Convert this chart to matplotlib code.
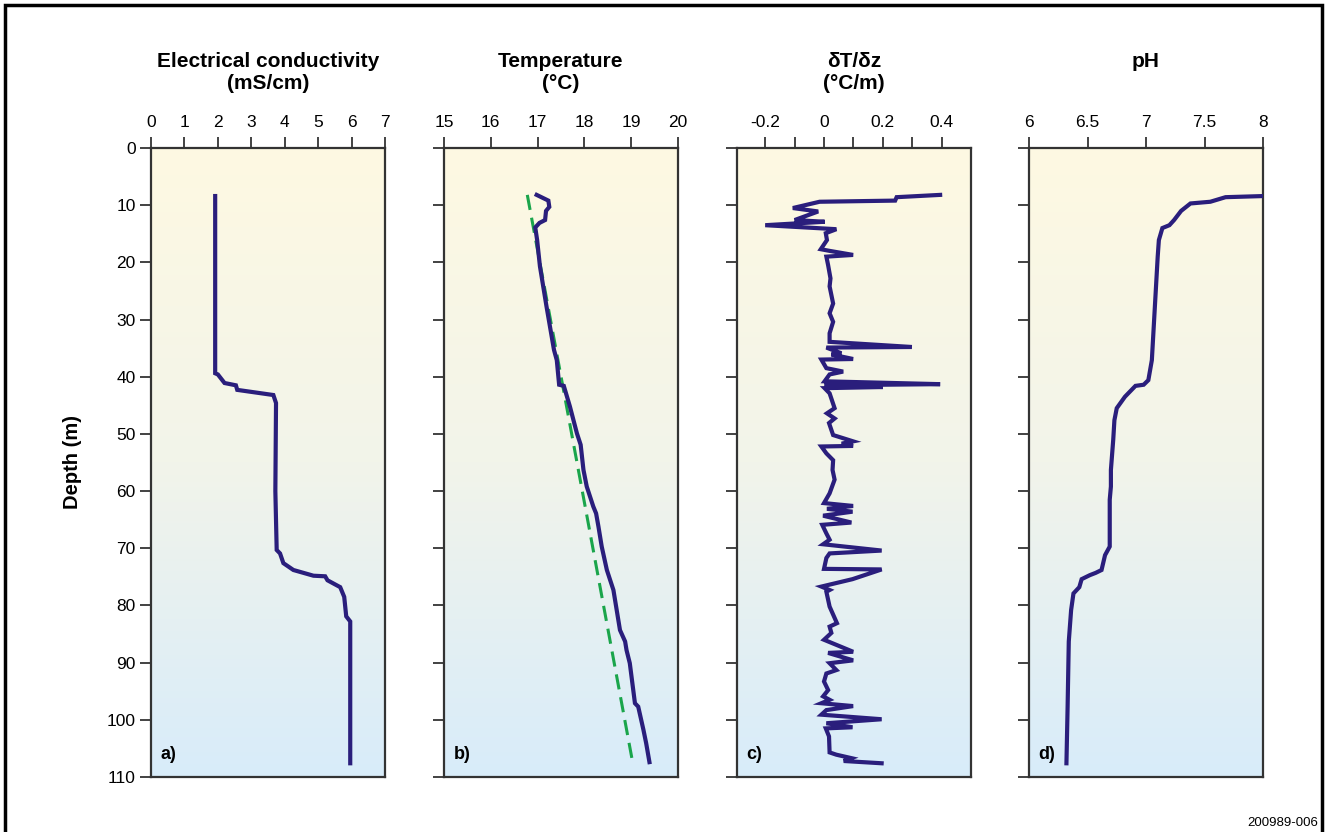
import matplotlib.pyplot as plt
import numpy as np
from matplotlib.colors import LinearSegmentedColormap
from matplotlib.patches import Rectangle

plt.rcParams['font.family'] = ['Liberation Sans', 'DejaVu Sans']

# ---- data ----
ec_depth = [8.4, 39.4, 39.6, 41.1, 41.5, 42.3, 43.2, 44.6, 60.0, 70.3, 70.9, 72.6,
            73.8, 74.8, 74.9, 75.6, 76.8, 78.5, 81.9, 82.8, 107.6]
ec_value = [1.92, 1.92, 2.0, 2.2, 2.54, 2.58, 3.66, 3.74, 3.72, 3.76, 3.86, 3.96,
            4.26, 4.86, 5.21, 5.28, 5.66, 5.78, 5.84, 5.96, 5.96]

temp_depth = [8.2, 9.2, 10.3, 11.0, 12.6, 13.1, 13.9, 16.1, 20.7, 27.7, 35.3, 37.1,
              41.4, 41.6, 45.2, 49.9, 51.9, 56.3, 59.2, 62.7, 63.9, 66.2, 69.7,
              73.8, 77.3, 80.8, 84.3, 86.3, 87.8, 90.1, 97.1, 97.7, 101.7, 104.1, 107.4]
temp_value = [16.98, 17.23, 17.25, 17.18, 17.16, 17.04, 16.95, 16.99, 17.05, 17.19,
              17.35, 17.41, 17.46, 17.56, 17.69, 17.84, 17.92, 17.98, 18.05, 18.19,
              18.25, 18.30, 18.37, 18.48, 18.62, 18.69, 18.76, 18.87, 18.90, 18.97,
              19.08, 19.15, 19.26, 19.32, 19.39]
trend_depth = [8.2, 107.4]
trend_value = [16.78, 19.03]

grad_depth = [8.2, 8.6, 9.2, 9.4, 10.5, 11.1, 12.6, 12.9, 13.5, 14.2, 14.9, 16.1,
              17.7, 18.0, 18.7, 19.0, 20.5, 22.8, 24.2, 27.2, 28.9, 30.4, 32.4, 33.9,
              34.8, 34.9, 35.9, 36.1, 36.9, 37.0, 38.5, 39.1, 39.6, 40.8, 41.3, 41.5,
              41.8, 42.0, 42.9, 45.5, 46.4, 47.3, 48.1, 50.2, 51.3, 51.7, 52.1, 52.2,
              53.4, 54.6, 56.3, 58.0, 60.4, 62.1, 62.6, 63.1, 63.6, 64.3, 65.5, 65.9,
              67.4, 68.5, 69.3, 70.4, 70.9, 71.7, 73.6, 73.7, 75.4, 76.7, 77.3, 77.6,
              80.2, 83.1, 83.7, 84.8, 86.0, 88.1, 88.3, 89.6, 90.1, 91.3, 91.9, 93.3,
              94.8, 95.9, 96.5, 97.1, 97.6, 98.3, 99.1, 99.9, 100.6, 101.3, 101.5,
              102.9, 105.7, 106.1, 106.7, 107.2, 107.6]
grad_value = [0.395, 0.247, 0.242, -0.015, -0.106, -0.02, -0.1, 0.002, -0.2, 0.042,
              0.006, 0.01, -0.011, 0.02, 0.099, 0.008, 0.014, 0.022, 0.019, 0.031,
              0.019, 0.031, 0.019, 0.019, 0.299, 0.008, 0.059, 0.025, 0.099, -0.009,
              0.008, 0.065, 0.019, 0.002, 0.395, 0.002, 0.2, 0.002, 0.019, 0.036,
              0.01, 0.036, 0.017, 0.031, 0.099, 0.06, 0.099, -0.009, 0.008, 0.031,
              0.029, 0.036, 0.019, 0.0, 0.099, 0.01, 0.097, -0.003, 0.093, -0.006,
              0.008, 0.019, -0.003, 0.196, 0.019, 0.008, 0.0, 0.196, 0.097, -0.009,
              0.019, 0.008, 0.019, 0.044, 0.019, 0.025, 0.0, 0.099, 0.014, 0.099,
              0.019, 0.042, 0.008, 0.0, 0.014, -0.003, 0.019, -0.009, 0.099, 0.008,
              -0.009, 0.196, 0.008, 0.097, 0.006, 0.017, 0.019, 0.042, 0.093, 0.067,
              0.196]

ph_depth = [8.4, 8.6, 9.4, 9.7, 11.0, 12.6, 13.5, 14.0, 16.1, 19.0, 37.1, 40.6,
            41.4, 41.6, 43.5, 45.5, 47.6, 51.0, 56.3, 59.2, 61.5, 69.7, 71.2, 73.8,
            74.3, 74.7, 75.4, 76.8, 77.9, 80.8, 86.3, 97.7, 107.6]
ph_value = [8.01, 7.68, 7.55, 7.38, 7.30, 7.24, 7.20, 7.14, 7.11, 7.10, 7.05, 7.02,
            6.98, 6.91, 6.82, 6.75, 6.73, 6.72, 6.70, 6.70, 6.69, 6.69, 6.65, 6.62,
            6.57, 6.52, 6.45, 6.43, 6.38, 6.36, 6.34, 6.33, 6.32]

panels = [
    dict(title='Electrical conductivity\n(mS/cm)', xlim=(0, 7),
         ticks=[0, 1, 2, 3, 4, 5, 6, 7], labels=['0', '1', '2', '3', '4', '5', '6', '7'],
         x=ec_value, y=ec_depth, tag='a)', left=151),
    dict(title='Temperature\n(°C)', xlim=(15, 20),
         ticks=[15, 16, 17, 18, 19, 20], labels=['15', '16', '17', '18', '19', '20'],
         x=temp_value, y=temp_depth, tag='b)', left=444),
    dict(title='δT/δz\n(°C/m)', xlim=(-0.296, 0.5),
         ticks=[-0.2, -0.1, 0, 0.1, 0.2, 0.3, 0.4],
         labels=['-0.2', '', '0', '', '0.2', '', '0.4'],
         x=grad_value, y=grad_depth, tag='c)', left=737),
    dict(title='pH', xlim=(6, 8),
         ticks=[6, 6.5, 7, 7.5, 8], labels=['6', '6.5', '7', '7.5', '8'],
         x=ph_value, y=ph_depth, tag='d)', left=1029),
]

W, H = 1326, 832
fig = plt.figure(figsize=(W / 100, H / 100), dpi=100)

# outer frame
fig.patches.append(Rectangle((5 / W, -0.05), 1317 / W, (H - 5) / H + 0.05,
                             transform=fig.transFigure, fill=False,
                             edgecolor='black', linewidth=2.5))

bg = LinearSegmentedColormap.from_list('bg', ['#fef9e2', '#f2f4ea', '#d8ecfa'])
line_col = '#2a1e7c'

for i, p in enumerate(panels):
    ax = fig.add_axes([p['left'] / W, (H - 777) / H, 234 / W, 629 / H])
    ax.imshow(np.linspace(0, 1, 256).reshape(-1, 1), cmap=bg, aspect='auto',
              extent=(p['xlim'][0], p['xlim'][1], 110, 0), zorder=0)
    ax.plot(p['x'], p['y'], color=line_col, lw=3.0, solid_joinstyle='miter', zorder=3)
    if i == 1:
        ax.plot(trend_value, trend_depth, color='#1aa54b', lw=2.2,
                dashes=(5, 2.6), zorder=2)
    ax.set_xlim(*p['xlim'])
    ax.set_ylim(110, 0)
    ax.xaxis.tick_top()
    ax.set_xticks(p['ticks'])
    ax.set_xticklabels(p['labels'])
    ax.set_yticks(range(0, 111, 10))
    if i > 0:
        ax.set_yticklabels([])
    ax.tick_params(axis='both', direction='out', length=8, width=1.2,
                   color='#222222', labelsize=12.5)
    ax.tick_params(axis='x', pad=5)
    ax.tick_params(axis='y', pad=3)
    for s in ax.spines.values():
        s.set_linewidth(1.6)
        s.set_color('#333333')
    fig.text((p['left'] + 117) / W, 1 - 52 / H, p['title'], ha='center', va='top',
             fontsize=15, fontweight='bold', linespacing=1.2)
    ax.text(0.04, 0.022, p['tag'], transform=ax.transAxes, fontsize=13,
            fontweight='bold', ha='left', va='bottom', zorder=4)
    if i == 0:
        ax.set_ylabel('Depth (m)', fontsize=14.5, fontweight='bold', labelpad=18)

fig.text(1318 / W, 1 - 823 / H, '200989-006', ha='right', va='center', fontsize=9.5)

fig.savefig('out.png', dpi=100)
